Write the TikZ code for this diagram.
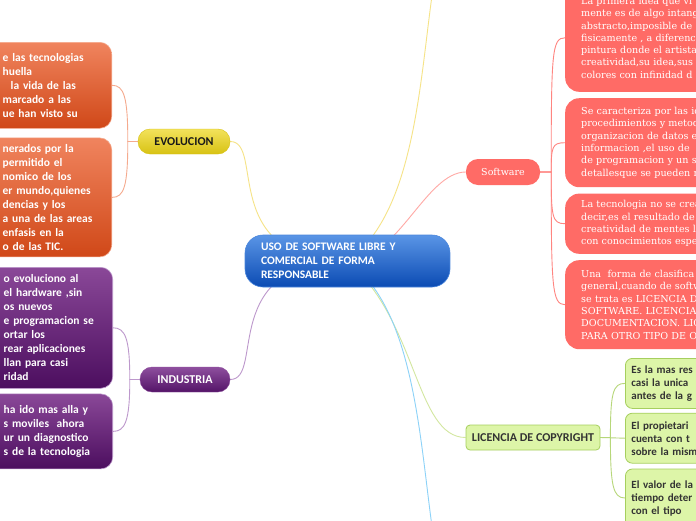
\documentclass[tikz,border=0pt]{standalone}
\usepackage{fontspec}
\usepackage{xcolor}
\usepackage{tikz}
\usetikzlibrary{positioning, backgrounds}

\newfontfamily\mmsans{Carlito}
\newfontfamily\mmserif{DejaVu Serif}

\definecolor{rootTop}{HTML}{5A95E6}
\definecolor{rootBot}{HTML}{0B4BB3}
\definecolor{evTop}{HTML}{F2E25C}
\definecolor{evBot}{HTML}{D8C213}
\definecolor{indTop}{HTML}{8E4F9E}
\definecolor{indBot}{HTML}{541468}
\definecolor{orTop}{HTML}{F0845E}
\definecolor{orBot}{HTML}{D04818}
\definecolor{puTop}{HTML}{8A4898}
\definecolor{puBot}{HTML}{4C0E5F}
\definecolor{swRed}{HTML}{FF6B66}
\definecolor{licFill}{HTML}{DDF5A8}
\definecolor{licLine}{HTML}{A6CF5E}
\definecolor{licText}{HTML}{333333}
\definecolor{yelLine}{HTML}{F6E387}
\definecolor{swLine}{HTML}{FFA9A5}
\definecolor{swLine2}{HTML}{FF8580}
\definecolor{licLink}{HTML}{D3E7A0}
\definecolor{licLink2}{HTML}{B7D77A}
\definecolor{bluLine}{HTML}{8CD2F8}
\definecolor{orLine}{HTML}{F5AA8E}
\definecolor{puLine}{HTML}{BD98CC}

\begin{document}
\begin{tikzpicture}[
  x=1pt, y=-1pt,
  pill/.style={rectangle, rounded corners=12pt, minimum height=25pt, inner xsep=8pt, text centered, font=\mmsans\bfseries\fontsize{12}{14}\selectfont},
  leftbox/.style={rectangle, rounded corners=12pt, text width=135pt, inner xsep=1pt, align=left, text=white, line width=0.6pt, font=\mmsans\bfseries\fontsize{11.5}{14}\selectfont, execute at begin node={\leftskip=27pt}},
  redbox/.style={rectangle, rounded corners=14pt, fill=swRed, text width=160pt, inner xsep=16pt, inner ysep=7pt, align=left, text=white, font=\mmserif\fontsize{9.6}{12.3}\selectfont},
  greenbox/.style={rectangle, rounded corners=7pt, fill=licFill, draw=licLine, line width=0.8pt, text width=110pt, inner xsep=6pt, align=left, text=licText, font=\mmsans\bfseries\fontsize{11}{13}\selectfont},
  link/.style={line width=0.9pt},
]
\useasboundingbox (0,0) rectangle (696,520);
\clip (0,0) rectangle (696,520);
\begin{scope}[on background layer]
  \fill[white] (0,0) rectangle (696,520);
\end{scope}

% Nodo central
\node[rectangle, rounded corners=18pt, top color=rootTop, bottom color=rootBot, draw=rootTop!80!rootBot, line width=0.6pt,
      minimum height=52pt, text width=173pt, inner xsep=16pt, align=left, text=white,
      font=\mmsans\bfseries\fontsize{11.5}{14}\selectfont] (root) at (347.5,261)
  {USO DE SOFTWARE LIBRE Y\\COMERCIAL DE FORMA\\RESPONSABLE};

% Ramas principales
\node[pill, top color=evTop, bottom color=evBot, draw=evBot, minimum width=92pt, text=black!90] (ev) at (184,141.5) {EVOLUCION};
\node[pill, top color=indTop, bottom color=indBot, draw=indTop, minimum width=90pt, text=white] (ind) at (185,379.5) {INDUSTRIA};
\node[pill, fill=swRed, minimum width=74pt, minimum height=26pt, text=white, font=\mmserif\fontsize{9.5}{12}\selectfont] (sw) at (503,172) {Software};
\node[rectangle, rounded corners=4pt, fill=licFill, draw=licLine, line width=0.8pt, minimum width=134pt, minimum height=25pt,
      text=licText, font=\mmsans\bfseries\fontsize{12}{14}\selectfont] (lic) at (533,437.5) {LICENCIA DE COPYRIGHT};
\coordinate (upEnd) at (436,-30);
\coordinate (downEnd) at (436,552);

% Evolucion
\node[leftbox, top color=orTop, bottom color=orBot, draw=orLine, minimum height=86pt, anchor=north east] (ev1) at (112,42)
  {e las tecnologias\\huella\\\hspace*{8pt}la vida de las\\marcado a las\\ue han visto su};
\node[leftbox, top color=orTop, bottom color=orBot, draw=orLine, minimum height=119pt, below=9pt of ev1] (ev2)
  {nerados por la\\permitido el\\nomico de los\\er mundo,quienes\\dencias y los\\a una de las areas\\enfasis en la\\o de las TIC.};

% Industria
\node[leftbox, top color=puTop, bottom color=puBot, draw=puLine, minimum height=121pt, anchor=north east] (ind1) at (113,267)
  {o evoluciono al\\el hardware ,sin\\os nuevos\\e programacion se\\ortar los\\rear aplicaciones\\llan para casi\\ridad};
\node[leftbox, top color=puTop, bottom color=puBot, draw=puLine, minimum height=75pt, below=5pt of ind1] (ind2)
  {ha ido mas alla y\\s moviles\ \ ahora\\ur un diagnostico\\s de la tecnologia};

% Software
\node[redbox, minimum height=108pt, anchor=south west] (sw1) at (565,92)
  {La primera idea que vi\\mente es de algo intang\\abstracto,imposible de\\fisicamente , a diferenc\\pintura donde el artista\\creatividad,su idea,sus\\colores con infinidad d};
\node[redbox, minimum height=89pt, below=6pt of sw1] (sw2)
  {Se caracteriza por las id\\procedimientos y metod\\organizacion de datos e\\informacion ,el uso de\\de programacion y un s\\detallesque se pueden r};
\node[redbox, minimum height=60pt, below=6pt of sw2] (sw3)
  {La tecnologia no se crea\\decir,es el resultado de\\creatividad de mentes l\\con conocimientos espe};
\node[redbox, minimum height=89pt, below=6pt of sw3] (sw4)
  {Una\ \ forma de clasifica\\general,cuando de softw\\se trata es LICENCIA DE\\SOFTWARE. LICENCIAS\\DOCUMENTACION. LIC\\PARA OTRO TIPO DE O};

% Licencia
\node[greenbox, minimum height=50pt, anchor=north west] (lic1) at (625,358) {Es la mas res\\casi la unica\\antes de la g};
\node[greenbox, minimum height=50pt, below=4pt of lic1] (lic2) {El propietari\\cuenta con t\\sobre la mism};
\node[greenbox, minimum height=58pt, below=5pt of lic2] (lic3) {El valor de la\\tiempo deter\\con el tipo};

% Conectores
\begin{scope}[on background layer]
  \draw[link, yelLine] (root.center) .. controls +(-130,0) and +(35,0) .. (ev.east);
  \draw[link, puLine] (root.center) .. controls +(-130,0) and +(35,0) .. (ind.east);
  \draw[link, swLine] (root.center) .. controls +(50,0) and +(-40,0) .. (sw.west);
  \draw[link, yelLine] (root.center) .. controls +(72.5,-51) and +(-16,90) .. (upEnd);
  \draw[link, licLink] (root.center) .. controls +(70,60) and +(-50,0) .. (lic.west);
  \draw[link, bluLine] (root.center) .. controls +(72.5,51) and +(-16,-90) .. (downEnd);

  \draw[link, orLine] (ev.west) -- ++(-10,0) .. controls +(0,-45) and +(12,0) .. (ev1.east);
  \draw[link, orLine] (ev.west) -- ++(-10,0) .. controls +(0,45) and +(12,0) .. (ev2.east);
  \draw[link, puLine] (ind.west) -- ++(-10,0) .. controls +(0,-42) and +(12,0) .. (ind1.east);
  \draw[link, puLine] (ind.west) -- ++(-10,0) .. controls +(0,42) and +(12,0) .. (ind2.east);

  \draw[link, swLine2] (sw.east) -- ++(11,0) .. controls +(0,-120) and +(-13,0) .. (sw1.west);
  \draw[link, swLine2] (sw.east) -- ++(11,0) .. controls +(0,-25) and +(-13,0) .. (sw2.west);
  \draw[link, swLine2] (sw.east) -- ++(11,0) .. controls +(0,45) and +(-13,0) .. (sw3.west);
  \draw[link, swLine2] (sw.east) -- ++(11,0) .. controls +(0,115) and +(-13,0) .. (sw4.west);

  \draw[link, licLink2] (lic.east) -- ++(10,0) .. controls +(0,-45) and +(-12,0) .. (lic1.west);
  \draw[link, licLink2] (lic.east) -- (lic2.west);
  \draw[link, licLink2] (lic.east) -- ++(10,0) .. controls +(0,48) and +(-12,0) .. (lic3.west);
\end{scope}

\end{tikzpicture}
\end{document}
